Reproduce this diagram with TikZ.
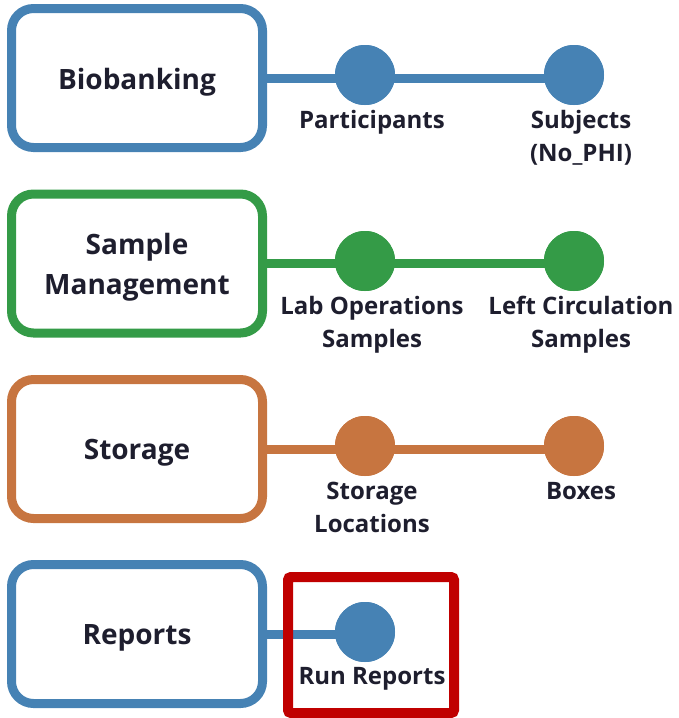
\documentclass[tikz,border=0pt]{standalone}
\usepackage{fontspec}
\setmainfont{Open Sans}
\definecolor{cblue}{HTML}{4682B4}
\definecolor{cgreen}{HTML}{349B47}
\definecolor{corange}{HTML}{C77540}
\definecolor{cred}{HTML}{C00000}
\definecolor{ctext}{HTML}{1E1E2E}
\begin{document}
\begin{tikzpicture}[x=1pt,y=-1pt,
  box/.style={draw=#1, line width=9pt, rounded corners=22pt, minimum width=251pt, minimum height=139pt, inner sep=0pt},
  btxt/.style={align=center, text=ctext, inner sep=0pt, yshift=-4pt, font=\fontsize{28}{40}\selectfont\bfseries},
  dot/.style={circle, fill=#1, minimum size=60pt, inner sep=0pt},
  conn/.style={draw=#1, line width=9pt},
  lbl/.style={anchor=base, align=center, text=ctext, inner sep=0pt, yshift=-1.5pt, font=\fontsize{24}{33}\selectfont\bfseries},
  hl/.style={draw=cred, line width=10pt, rounded corners=3pt, minimum width=166pt, minimum height=136pt, inner sep=0pt}
]
\useasboundingbox (0,0) rectangle (679,718);
% row 1
\node[box=cblue, label={[btxt]center:Biobanking}] (b1) at (137,78) {};
\node[dot=cblue] (c11) at (365,75) {};
\node[dot=cblue] (c12) at (574,75) {};
\draw[conn=cblue] (b1.east) -- (b1.east -| c12.center);
\node[dot=cblue] at (c11) {};
\node[dot=cblue] at (c12) {};
\node[lbl] (l11) at (372,127) {Participants};
\node[lbl] (l12) at (581,160) {Subjects\\(No\_PHI)};
% row 2
\node[box=cgreen, label={[btxt]center:Sample\\Management}] (b2) at (137,263.5) {};
\node[dot=cgreen] (c21) at (365,261) {};
\node[dot=cgreen] (c22) at (574,261) {};
\draw[conn=cgreen] (b2.east) -- (b2.east -| c22.center);
\node[dot=cgreen] at (c21) {};
\node[dot=cgreen] at (c22) {};
\node[lbl] (l21) at (372,346) {Lab Operations\\Samples};
\node[lbl] (l22) at (581,346) {Left Circulation\\Samples};
% row 3
\node[box=corange, label={[btxt]center:Storage}] (b3) at (137,449) {};
\node[dot=corange] (c31) at (365,446) {};
\node[dot=corange] (c32) at (574,446) {};
\draw[conn=corange] (b3.east) -- (b3.east -| c32.center);
\node[dot=corange] at (c31) {};
\node[dot=corange] at (c32) {};
\node[lbl] (l31) at (372,531) {Storage\\Locations};
\node[lbl] (l32) at (581,498) {Boxes};
% row 4
\node[box=cblue, label={[btxt]center:Reports}] (b4) at (137,634) {};
\node[dot=cblue] (c41) at (365,632) {};
\draw[conn=cblue] (b4.east) -- (b4.east -| c41.center);
\node[dot=cblue] at (c41) {};
\node[lbl] (l41) at (372,683) {Run Reports};
\node[hl] (rr) at (371,645) {};
\end{tikzpicture}
\end{document}
